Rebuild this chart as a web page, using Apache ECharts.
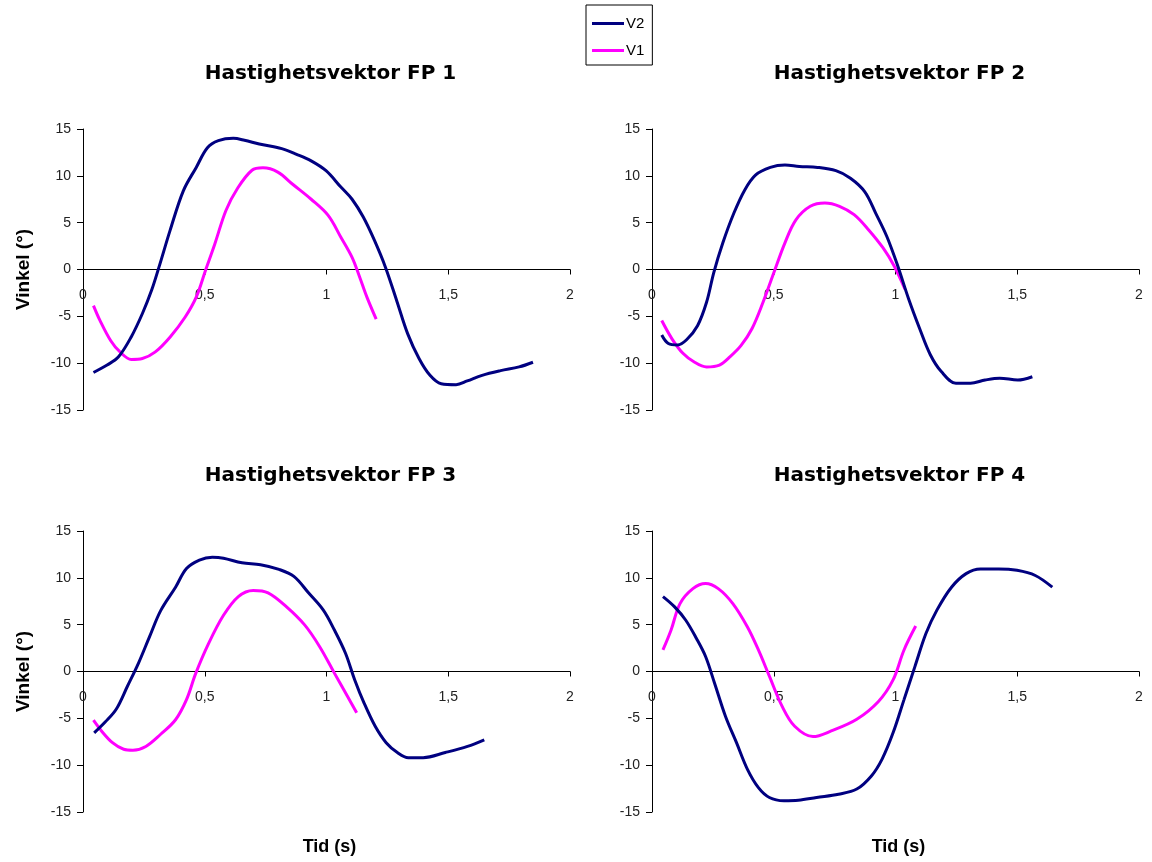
<!DOCTYPE html>
<html>
<head>
<meta charset="utf-8">
<script src="https://cdn.jsdelivr.net/npm/echarts@6/dist/echarts.min.js"></script>
<style>html,body{margin:0;padding:0;background:#fff}#c{width:1152px;height:862px}</style>
</head>
<body>
<div id="c"></div>
<script>
// ---- data: [time (s), angle (°)] ----
const seriesNames = ['V2', 'V1'];
const panelTitles = ['Hastighetsvektor FP 1', 'Hastighetsvektor FP 2', 'Hastighetsvektor FP 3', 'Hastighetsvektor FP 4'];
const xTicks = [0, 0.5, 1, 1.5, 2];
const yTicks = [-15, -10, -5, 0, 5, 10, 15];

const fp1V2 = [[0.043,-11.0],[0.099,-10.2],[0.145,-9.35],[0.198,-7.2],[0.244,-4.7],[0.282,-2.2],[0.312,0.25],[0.358,4.2],[0.412,8.4],[0.465,10.9],[0.511,13.0],[0.556,13.75],[0.617,14.0],[0.663,13.8],[0.724,13.4],[0.816,12.9],[0.877,12.3],[0.937,11.6],[0.998,10.55],[1.059,8.8],[1.105,7.5],[1.151,5.6],[1.197,3.1],[1.242,0.25],[1.288,-3.3],[1.334,-6.9],[1.38,-9.5],[1.425,-11.3],[1.471,-12.2],[1.532,-12.3],[1.578,-11.9],[1.639,-11.3],[1.715,-10.8],[1.791,-10.4],[1.848,-9.9]];
const fp1V1 = [[0.043,-3.85],[0.069,-5.4],[0.114,-7.6],[0.152,-8.8],[0.198,-9.6],[0.244,-9.5],[0.297,-8.8],[0.358,-7.2],[0.419,-5.1],[0.465,-2.95],[0.503,-0.1],[0.541,2.7],[0.587,6.3],[0.633,8.6],[0.694,10.6],[0.739,10.85],[0.8,10.4],[0.861,9.1],[0.937,7.5],[1.006,5.8],[1.059,3.45],[1.105,1.3],[1.136,-0.8],[1.166,-2.95],[1.204,-5.3]];

const fp2V2 = [[0.04,-7.0],[0.067,-7.9],[0.105,-8.05],[0.142,-7.5],[0.187,-6.0],[0.224,-3.5],[0.254,-0.3],[0.291,2.85],[0.336,6.0],[0.381,8.5],[0.426,10.1],[0.486,10.9],[0.546,11.15],[0.605,11.0],[0.68,10.9],[0.755,10.55],[0.815,9.75],[0.874,8.3],[0.919,6.0],[0.964,3.55],[1.009,0.4],[1.054,-3.15],[1.099,-6.3],[1.143,-9.1],[1.188,-10.9],[1.248,-12.15],[1.308,-12.15],[1.368,-11.8],[1.428,-11.6],[1.502,-11.8],[1.562,-11.45]];
const fp2V1 = [[0.04,-5.45],[0.082,-7.4],[0.127,-8.95],[0.172,-9.85],[0.224,-10.4],[0.277,-10.2],[0.321,-9.3],[0.366,-8.1],[0.411,-6.3],[0.456,-3.5],[0.501,-0.3],[0.546,2.85],[0.591,5.3],[0.65,6.75],[0.71,7.1],[0.77,6.75],[0.83,5.85],[0.889,4.25],[0.949,2.3],[0.994,0.4],[1.039,-2.1]];

const fp3V2 = [[0.046,-6.55],[0.091,-5.4],[0.137,-4.0],[0.182,-1.6],[0.228,0.9],[0.273,3.7],[0.319,6.5],[0.38,9.0],[0.425,11.0],[0.478,11.9],[0.531,12.2],[0.577,12.1],[0.653,11.6],[0.729,11.4],[0.805,10.9],[0.866,10.15],[0.926,8.4],[0.987,6.55],[1.033,4.4],[1.078,1.95],[1.116,-0.9],[1.154,-3.35],[1.2,-5.85],[1.245,-7.6],[1.291,-8.65],[1.336,-9.2],[1.397,-9.2],[1.488,-8.65],[1.579,-8.0],[1.648,-7.3]];
const fp3V1 = [[0.043,-5.2],[0.076,-6.35],[0.121,-7.6],[0.167,-8.3],[0.205,-8.4],[0.258,-8.0],[0.319,-6.7],[0.38,-5.15],[0.425,-3.0],[0.463,-0.2],[0.516,3.0],[0.577,6.0],[0.638,8.0],[0.699,8.65],[0.76,8.4],[0.836,6.9],[0.911,4.95],[0.972,2.65],[1.033,-0.2],[1.086,-2.65],[1.124,-4.4]];

const fp4V2 = [[0.045,8.0],[0.093,6.9],[0.138,5.5],[0.182,3.55],[0.22,1.6],[0.257,-1.25],[0.302,-4.8],[0.347,-7.6],[0.392,-10.45],[0.437,-12.4],[0.482,-13.45],[0.542,-13.8],[0.601,-13.75],[0.676,-13.45],[0.766,-13.1],[0.841,-12.55],[0.901,-11.15],[0.945,-9.35],[0.99,-6.55],[1.035,-3.0],[1.08,0.55],[1.125,4.05],[1.17,6.55],[1.23,9.0],[1.29,10.45],[1.349,10.95],[1.424,10.95],[1.499,10.8],[1.574,10.25],[1.644,9.0]];
const fp4V1 = [[0.045,2.3],[0.078,4.4],[0.115,7.25],[0.168,8.85],[0.22,9.4],[0.272,8.85],[0.332,7.25],[0.392,4.75],[0.437,2.3],[0.482,-0.5],[0.534,-3.7],[0.586,-5.85],[0.661,-6.95],[0.736,-6.35],[0.841,-5.1],[0.93,-3.2],[0.99,-0.9],[1.035,2.3],[1.083,4.85]];

const panelData = [[fp1V2, fp1V1], [fp2V2, fp2V1], [fp3V2, fp3V1], [fp4V2, fp4V1]];
const colors = ['#000080', '#FF00FF'];

// ---- layout ----
const FONT = 'Liberation Sans, Arial, sans-serif';
const WIDE = 'DejaVu Sans, Liberation Sans, sans-serif';
const grids = [
  {left: 83, top: 129, width: 487, height: 281},
  {left: 652, top: 129, width: 487, height: 281},
  {left: 83, top: 531, width: 487, height: 281},
  {left: 652, top: 531, width: 487, height: 281}
].map(g => Object.assign(g, {containLabel: false, outerBoundsMode: 'none'}));

const option = {
  animation: false,
  backgroundColor: '#fff',
  title: panelTitles.map((t, i) => ({
    text: t,
    left: grids[i].left + grids[i].width / 2 - 1,
    top: grids[i].top - 70,
    textAlign: 'center',
    textStyle: {fontFamily: WIDE, fontSize: 20, fontWeight: 'bold', color: '#000'}
  })),
  legend: {
    orient: 'vertical',
    left: 586, top: 5,
    padding: [11, 8, 7, 6],
    itemGap: 12,
    itemWidth: 32, itemHeight: 3,
    icon: 'rect',
    borderColor: '#000', borderWidth: 1,
    backgroundColor: '#fff',
    textStyle: {fontFamily: FONT, fontSize: 15, color: '#000', padding: [0, 0, 0, -3]},
    data: seriesNames
  },
  grid: grids,
  xAxis: grids.map((g, i) => ({
    type: 'value', gridIndex: i, min: xTicks[0], max: xTicks[xTicks.length - 1], interval: 0.5,
    position: 'bottom',
    offset: -g.height / 2,
    axisLine: {onZero: false, lineStyle: {color: '#000', width: 1}},
    axisTick: {show: true, length: 5, inside: false, lineStyle: {color: '#000'}},
    axisLabel: {margin: 19, fontFamily: FONT, fontSize: 14, color: '#222',
      formatter: v => String(v).replace('.', ',')},
    splitLine: {show: false},
    name: i >= 2 ? 'Tid (s)' : '',
    nameLocation: 'middle', nameGap: 167,
    nameTextStyle: {fontFamily: FONT, fontSize: 18, fontWeight: 'bold', color: '#000', padding: [0, 0, 0, 6]}
  })),
  yAxis: grids.map((g, i) => ({
    type: 'value', gridIndex: i, min: yTicks[0], max: yTicks[yTicks.length - 1], interval: 5,
    axisLine: {show: true, lineStyle: {color: '#000', width: 1}},
    axisTick: {show: true, length: 6, inside: false, lineStyle: {color: '#000'}},
    axisLabel: {margin: 12, fontFamily: FONT, fontSize: 14, color: '#222'},
    splitLine: {show: false},
    name: (i % 2 === 0) ? 'Vinkel (°)' : '',
    nameLocation: 'middle', nameGap: 50, nameRotate: 90,
    nameTextStyle: {fontFamily: FONT, fontSize: 19, fontWeight: 'bold', color: '#000'}
  })),
  series: []
};

panelData.forEach((pair, i) => {
  pair.forEach((d, k) => {
    option.series.push({
      name: seriesNames[k], type: 'line', xAxisIndex: i, yAxisIndex: i,
      data: d, smooth: 0.35, showSymbol: false, symbol: 'none',
      lineStyle: {color: colors[k], width: 3}, itemStyle: {color: colors[k]},
      z: k === 0 ? 3 : 2
    });
  });
});

const chart = echarts.init(document.getElementById('c'), null, {renderer: 'canvas'});
chart.setOption(option);
</script>
</body>
</html>
